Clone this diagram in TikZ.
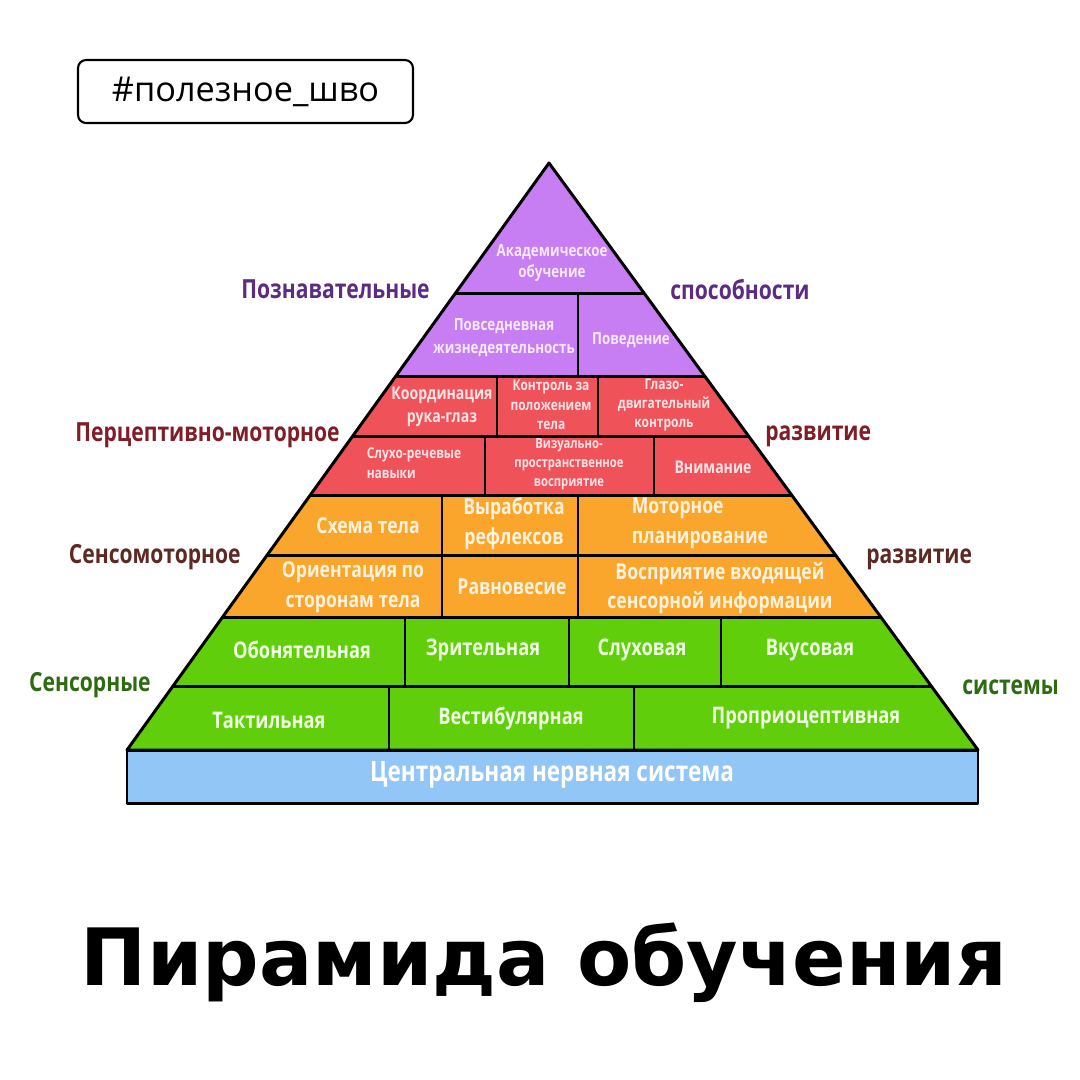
\documentclass[tikz,border=0pt]{standalone}
\usepackage{fontspec}
\setmainfont{Open Sans}
\newfontfamily\cellfont[FakeStretch=0.8]{Open Sans}
\newfontfamily\titlefont{DejaVu Sans}

\definecolor{acadviolet}{RGB}{198,126,242}
\definecolor{perceptred}{RGB}{240,82,90}
\definecolor{motororange}{RGB}{250,166,44}
\definecolor{sensegreen}{RGB}{96,206,10}
\definecolor{cnsblue}{RGB}{145,198,246}
\definecolor{cogtext}{RGB}{92,44,130}
\definecolor{pmtext}{RGB}{128,30,40}
\definecolor{smtext}{RGB}{92,42,34}
\definecolor{sstext}{RGB}{45,106,16}
\definecolor{violetink}{RGB}{246,232,255}
\definecolor{redink}{RGB}{255,228,230}
\definecolor{orangeink}{RGB}{255,242,220}
\definecolor{greenink}{RGB}{238,255,226}

\tikzset{
  pline/.style={black, line width=1.7pt},
  cell/.style 2 args={inner sep=0pt, align=center,
    font=\cellfont\bfseries\fontsize{#1}{#2}\selectfont},
  side/.style={inner sep=0pt, font=\cellfont\bfseries\fontsize{15}{18}\selectfont}
}

\begin{document}
\begin{tikzpicture}[x=0.02cm, y=-0.02cm, line join=round]
\useasboundingbox (0,0) rectangle (1080,1080);
\fill[white] (0,0) rectangle (1080,1080);

\node[draw, line width=1.2pt, rounded corners=0.16cm, minimum width=6.7cm,
  minimum height=1.26cm, font=\fontsize{19.5}{23}\selectfont] (tag) at (245.5,91.5) {\#полезное\_шво};

\coordinate (apex) at (549,163);
\coordinate (bl) at (127,750);
\coordinate (br) at (978,750);

\begin{scope}
\clip (apex) -- (br) -- (bl) -- cycle;
\fill[acadviolet] (100,150) rectangle (1000,376);
\fill[perceptred] (100,376) rectangle (1000,495);
\fill[motororange] (100,495) rectangle (1000,617);
\fill[sensegreen] (100,617) rectangle (1000,750);
\foreach \y in {293,376,436,495,555,617,686}
  \draw[pline] (100,\y) -- (1000,\y);
\end{scope}
\foreach \x/\a/\b in {578/293/376, 497/376/436, 598/376/436, 485/436/495, 654/436/495,
    442/495/617, 578/495/617, 405/617/686, 569/617/686, 721/617/686, 389/686/750, 634/686/750}
  \draw[pline] (\x,\a) -- (\x,\b);
\draw[pline, fill=cnsblue] (127,750) rectangle (978,803);
\draw[pline] (apex) -- (br) -- (bl) -- cycle;

% cognitive
\node[cell={9.5}{12}, text=violetink] (acad) at (552,263) {Академическое\\обучение};
\node[cell={9.5}{13}, text=violetink] (daily) at (504,338) {Повседневная\\жизнедеятельность};
\node[cell={9.5}{13}, text=violetink] (behav) at (631,340) {Поведение};

% perceptual-motor
\node[cell={10}{13}, text=redink] (eyehand) at (442,407) {Координация\\рука-глаз};
\node[cell={8.5}{11}, text=redink] (posture) at (551,405) {Контроль за\\положением\\тела};
\node[cell={8.5}{11}, text=redink] (oculo) at (664,405) {Глазо-\\двигательный\\контроль};
\node[cell={8.5}{11.5}, text=redink, align=left] (speech) at (414,463) {Слухо-речевые\\навыки};
\node[cell={8}{11}, text=redink] (visual) at (569,464) {Визуально-\\пространственное\\восприятие};
\node[cell={10}{13}, text=redink] (attn) at (713,467) {Внимание};

% sensorimotor
\node[cell={12.5}{17}, text=orangeink] (scheme) at (368,526) {Схема тела};
\node[cell={12.5}{17}, text=orangeink] (reflex) at (514,524) {Выработка\\рефлексов};
\node[cell={12.5}{17}, text=orangeink, align=left] (plan) at (700,523) {Моторное\\планирование};
\node[cell={12.5}{17}, text=orangeink] (orient) at (353,587) {Ориентация по\\сторонам тела};
\node[cell={12.5}{17}, text=orangeink] (balance) at (512,587) {Равновесие};
\node[cell={12.5}{17}, text=orangeink] (input) at (720,588) {Восприятие входящей\\сенсорной информации};

% sensory systems
\node[cell={13}{16}, text=greenink] (smell) at (302,650) {Обонятельная};
\node[cell={13}{16}, text=greenink] (sight) at (483,650) {Зрительная};
\node[cell={13}{16}, text=greenink] (hear) at (642,650) {Слуховая};
\node[cell={13}{16}, text=greenink] (taste) at (810,650) {Вкусовая};
\node[cell={13}{16}, text=greenink] (touch) at (269,720) {Тактильная};
\node[cell={13}{16}, text=greenink] (vest) at (511,718) {Вестибулярная};
\node[cell={13}{16}, text=greenink] (propr) at (806,718) {Проприоцептивная};

\node[cell={16}{19}, text=white] (cns) at (552,775) {Центральная нервная система};

% side captions
\node[side, text=cogtext, anchor=base east] (cogl) at (430,298) {Познавательные};
\node[side, text=cogtext, anchor=base west] (cogr) at (670,299) {способности};
\node[side, text=pmtext, anchor=base east] (pml) at (340,441) {Перцептивно-моторное};
\node[side, text=pmtext, anchor=base west] (pmr) at (765,440) {развитие};
\node[side, text=smtext, anchor=base east] (sml) at (241,563) {Сенсомоторное};
\node[side, text=smtext, anchor=base west] (smr) at (866,563) {развитие};
\node[side, text=sstext, anchor=base east] (ssl) at (151,691) {Сенсорные};
\node[side, text=sstext, anchor=base west] (ssr) at (962,694) {системы};

\node[anchor=base, inner sep=0pt, font=\titlefont\bfseries\fontsize{45}{50}\selectfont] (title) at (544,985) {Пирамида обучения};
\end{tikzpicture}
\end{document}
